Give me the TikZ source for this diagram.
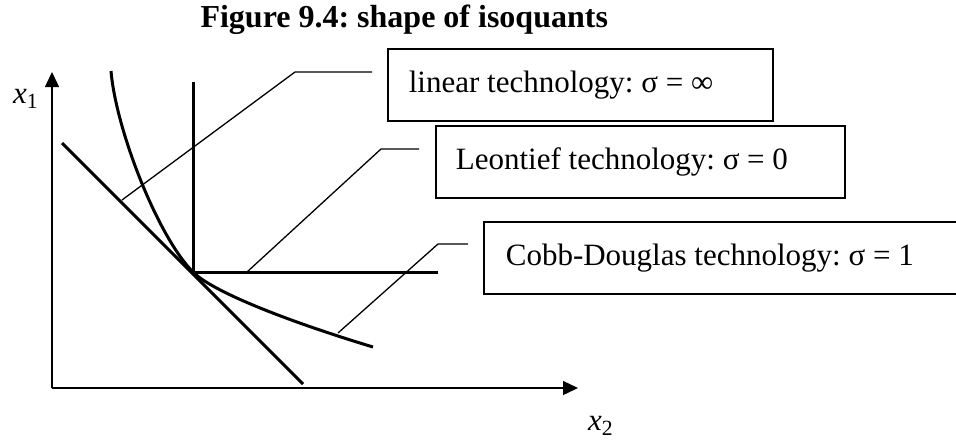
\documentclass[tikz,border=0pt]{standalone}
\usepackage{fontspec}
\setmainfont{Liberation Serif}
\usetikzlibrary{arrows.meta}

\begin{document}
\frenchspacing
\begin{tikzpicture}[x=1pt, y=-1pt,
    axis/.style={line width=1.4pt, -{Triangle[length=15pt,width=14pt]}},
    iso/.style={line width=3pt},
    leader/.style={line width=1.3pt},
    techbox/.style={draw, line width=1.7pt, anchor=north west, minimum height=72pt,
      inner xsep=21pt, align=flush left, font=\fontsize{31}{36}\selectfont},
    axlabel/.style={font=\fontsize{31}{36}\selectfont}]
  \clip (0,0) rectangle (956,440);
  % Title
  \node[anchor=base west, font=\bfseries\fontsize{32}{38}\selectfont] (title)
    at (197,27) {Figure 9.4: shape of isoquants};
  % Axes
  \coordinate (O) at (52,388);
  \coordinate (ytip) at (52,72);
  \coordinate (xtip) at (578,388);
  \draw[axis] (O) -- (ytip);
  \draw[axis] (O) -- (xtip);
  \node[axlabel, anchor=base west, inner sep=0pt] (xone) at (13,103) {\textit{x}\textsubscript{1}};
  \node[axlabel, anchor=base west, inner sep=0pt] (xtwo) at (588,430) {\textit{x}\textsubscript{2}};
  % Isoquants
  \coordinate (kink) at (193,272);
  \draw[iso] (62,143) -- (303,384);
  \draw[iso] (193,82) -- (kink) -- (438,272);
  \draw[iso] (111,71) .. controls (116,130) and (158,237) .. (kink)
    .. controls (215,294) and (300,325) .. (373,347);
  % Boxes
  \node[techbox, minimum width=385pt, text width=343pt] (lin) at (387,48)
    {linear technology: σ = ∞};
  \node[techbox, minimum width=409pt, text width=369pt, inner xsep=20pt] (leo) at (435,125)
    {Leontief technology: σ = 0};
  \node[techbox, minimum width=480pt, text width=436pt, inner xsep=22pt] (cd) at (483,221)
    {Cobb-Douglas technology: σ = 1};
  % Leaders
  \coordinate (l1a) at (372,72);
  \coordinate (l1b) at (295,72);
  \coordinate (l1c) at (122,200);
  \coordinate (l2a) at (419,149);
  \coordinate (l2b) at (381,149);
  \coordinate (l2c) at (247,272);
  \coordinate (l3a) at (468,244);
  \coordinate (l3b) at (438,244);
  \coordinate (l3c) at (338,333);
  \draw[leader] (l1a) -- (l1b) -- (l1c);
  \draw[leader] (l2a) -- (l2b) -- (l2c);
  \draw[leader] (l3a) -- (l3b) -- (l3c);
\end{tikzpicture}
\end{document}
